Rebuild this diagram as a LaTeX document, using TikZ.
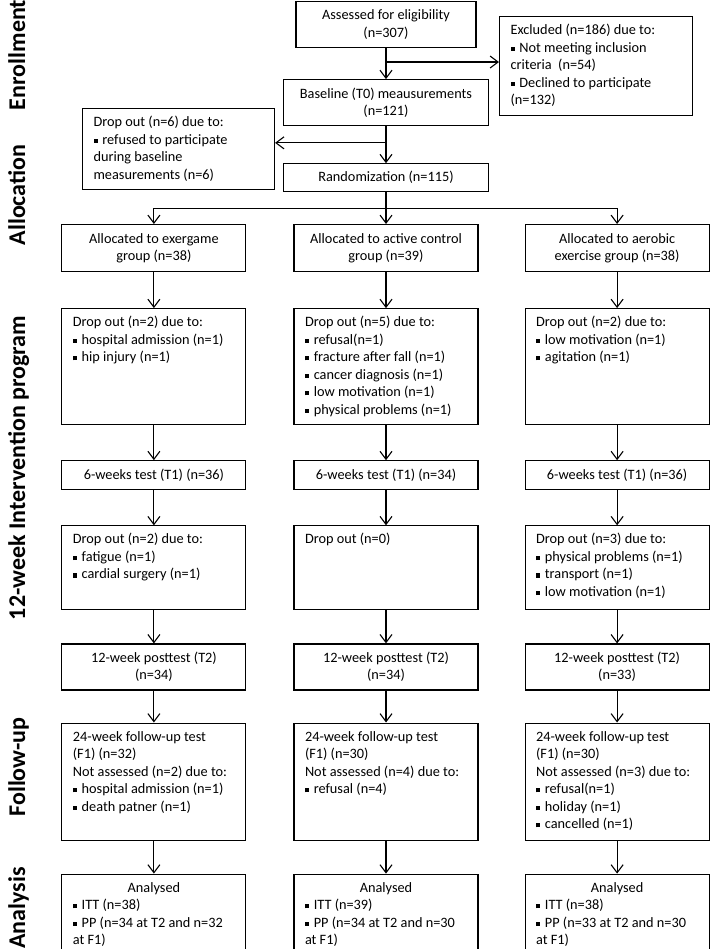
\documentclass[tikz,border=0pt]{standalone}
\usepackage{fontspec}
\setmainfont{Carlito}
\usetikzlibrary{positioning,arrows.meta,calc}

\newcommand{\boxfont}{\fontsize{14.3}{17.5}\selectfont}
\newcommand{\sq}{\rule[1.2pt]{4.2pt}{4.2pt}\hspace{4.6pt}}

\tikzset{
  cbox/.style 2 args={draw, line width=1.1pt, minimum width=#1, minimum height=#2,
    inner sep=0pt, align=center, font=\boxfont},
  tbox/.style 2 args={draw, line width=1.1pt, inner xsep=11pt, inner ysep=0pt, font=\boxfont,
    execute at begin node={\begin{minipage}[t][#2][t]{\dimexpr #1-22pt\relax}\boxfont\raggedright\rule{0pt}{18pt}},
    execute at end node={\end{minipage}}},
  arr/.style={-{Straight Barb[length=8pt,width=12pt]}, line width=1.1pt},
  phase/.style={font=\fontsize{24}{29}\selectfont\bfseries, rotate=90, anchor=base},
}

\begin{document}
\begin{tikzpicture}[x=1pt, y=1pt]
    \useasboundingbox (0,0) rectangle (709,-949);

    % phases
    \node[phase] (ph1) at (25,-55) {Enrollment};
    \node[phase] (ph2) at (25,-195) {Allocation};
    \node[phase] (ph3) at (25,-468) {12-week Intervention program};
    \node[phase] (ph4) at (25,-767) {Follow-up};
    \node[phase] (ph5) at (25,-908) {Analysis};

    % enrollment
    \node[cbox={180pt}{46pt}, anchor=north] (assess) at (386,-1) {Assessed for eligibility\\(n=307)};
    \node[cbox={205pt}{46pt}, below=31pt of assess] (base) {Baseline (T0) meausurements\\(n=121)};
    \node[cbox={205pt}{28pt}, below=37pt of base] (rand) {Randomization (n=115)};
    \node[tbox={193pt}{99pt}, anchor=north west] (excl) at (499,-16) {Excluded (n=186) due to:\\
        \sq Not meeting inclusion\\criteria\ \ (n=54)\\\sq Declined to participate\\(n=132)};
    \node[tbox={192pt}{81pt}, anchor=north west] (drop0) at (82,-108) {Drop out (n=6) due to:\\
        \sq refused to participate\\during baseline\\measurements (n=6)};

    % allocation
    \node[cbox={184pt}{47pt}, anchor=north] (alloc2) at (386,-224) {Allocated to active control\\group (n=39)};
    \node[cbox={184pt}{47pt}, left=47pt of alloc2] (alloc1) {Allocated to exergame\\group (n=38)};
    \node[cbox={184pt}{47pt}, right=46pt of alloc2] (alloc3) {Allocated to aerobic\\exercise group (n=38)};

    % exergame group
    \node[tbox={184pt}{116pt}, below=36pt of alloc1] (dropA1) {Drop out (n=2) due to:\\
        \sq hospital admission (n=1)\\\sq hip injury (n=1)};
    \node[cbox={184pt}{29pt}, below=35pt of dropA1] (six1) {6-weeks test (T1) (n=36)};
    \node[tbox={184pt}{84pt}, below=35pt of six1] (dropB1) {Drop out (n=2) due to:\\
        \sq fatigue (n=1)\\\sq cardial surgery (n=1)};
    \node[cbox={184pt}{46pt}, below=33pt of dropB1] (post1) {12-week posttest (T2)\\(n=34)};
    \node[tbox={184pt}{117pt}, below=32pt of post1] (fu1) {24-week follow-up test\\(F1) (n=32)\\
        Not assessed (n=2) due to:\\\sq hospital admission (n=1)\\\sq death patner (n=1)};
    \node[tbox={184pt}{81pt}, below=33pt of fu1] (ana1) {{\centering Analysed\par}
        \sq ITT (n=38)\\\sq PP (n=34 at T2 and n=32\\at F1)};

    % active control group
    \node[tbox={184pt}{116pt}, below=36pt of alloc2] (dropA2) {Drop out (n=5) due to:\\
        \sq refusal(n=1)\\\sq fracture after fall (n=1)\\\sq cancer diagnosis (n=1)\\
        \sq low motivation (n=1)\\\sq physical problems (n=1)};
    \node[cbox={184pt}{29pt}, below=35pt of dropA2] (six2) {6-weeks test (T1) (n=34)};
    \node[tbox={184pt}{84pt}, below=35pt of six2] (dropB2) {Drop out (n=0)};
    \node[cbox={184pt}{46pt}, below=33pt of dropB2] (post2) {12-week posttest (T2)\\(n=34)};
    \node[tbox={184pt}{117pt}, below=32pt of post2] (fu2) {24-week follow-up test\\(F1) (n=30)\\
        Not assessed (n=4) due to:\\\sq refusal (n=4)};
    \node[tbox={184pt}{81pt}, below=33pt of fu2] (ana2) {{\centering Analysed\par}
        \sq ITT (n=39)\\\sq PP (n=34 at T2 and n=30\\at F1)};

    % aerobic exercise group
    \node[tbox={184pt}{116pt}, below=36pt of alloc3] (dropA3) {Drop out (n=2) due to:\\
        \sq low motivation (n=1)\\\sq agitation (n=1)};
    \node[cbox={184pt}{29pt}, below=35pt of dropA3] (six3) {6-weeks test (T1) (n=36)};
    \node[tbox={184pt}{84pt}, below=35pt of six3] (dropB3) {Drop out (n=3) due to:\\
        \sq physical problems (n=1)\\\sq transport (n=1)\\\sq low motivation (n=1)};
    \node[cbox={184pt}{46pt}, below=33pt of dropB3] (post3) {12-week posttest (T2)\\(n=33)};
    \node[tbox={184pt}{117pt}, below=32pt of post3] (fu3) {24-week follow-up test\\(F1) (n=30)\\
        Not assessed (n=3) due to:\\\sq refusal(n=1)\\\sq holiday (n=1)\\\sq cancelled (n=1)};
    \node[tbox={184pt}{81pt}, below=33pt of fu3] (ana3) {{\centering Analysed\par}
        \sq ITT (n=38)\\\sq PP (n=33 at T2 and n=30\\at F1)};

    % connectors
    \coordinate (exclpt) at ($(assess.south)!0.45!(base.north)$);
    \coordinate (droppt) at ($(base.south)!0.45!(rand.north)$);
    \coordinate (split) at ($(rand.south)!0.5!(alloc2.north)$);

    \path[arr] (assess) edge (base);
    \draw[arr] (exclpt) -- (exclpt -| excl.west);
    \path[arr] (base) edge (rand);
    \draw[arr] (droppt) -- (droppt -| drop0.east);
    \draw[arr] (rand.south) -- (split) -| (alloc1.north);
    \draw[arr] (split) -| (alloc3.north);
    \path[arr] (rand) edge (alloc2);

    \path[arr] (alloc1) edge (dropA1);
    \path[arr] (dropA1) edge (six1);
    \path[arr] (six1) edge (dropB1);
    \path[arr] (dropB1) edge (post1);
    \path[arr] (post1) edge (fu1);
    \path[arr] (fu1) edge (ana1);

    \path[arr] (alloc2) edge (dropA2);
    \path[arr] (dropA2) edge (six2);
    \path[arr] (six2) edge (dropB2);
    \path[arr] (dropB2) edge (post2);
    \path[arr] (post2) edge (fu2);
    \path[arr] (fu2) edge (ana2);

    \path[arr] (alloc3) edge (dropA3);
    \path[arr] (dropA3) edge (six3);
    \path[arr] (six3) edge (dropB3);
    \path[arr] (dropB3) edge (post3);
    \path[arr] (post3) edge (fu3);
    \path[arr] (fu3) edge (ana3);

\end{tikzpicture}
\end{document}
